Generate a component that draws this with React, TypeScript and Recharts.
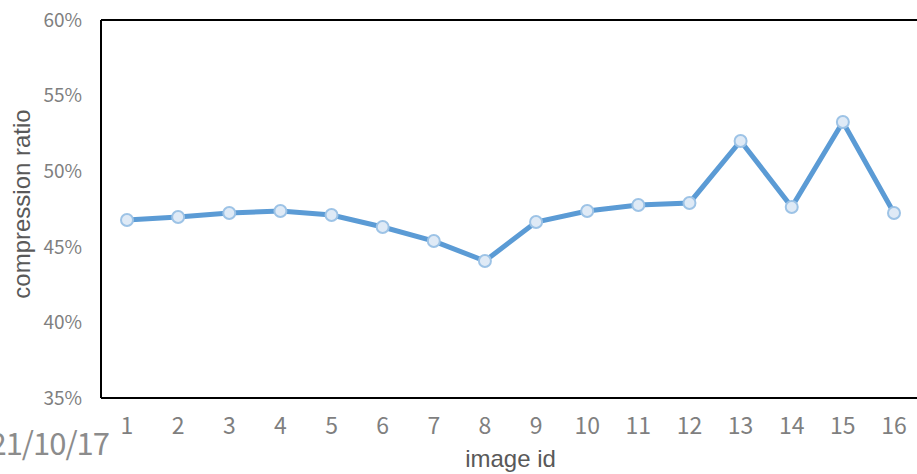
import { LineChart, Line, XAxis, YAxis, ReferenceLine } from 'recharts'

const imageIds = ['1', '2', '3', '4', '5', '6', '7', '8', '9', '10', '11', '12', '13', '14', '15', '16']
const ratios = [46.77, 46.97, 47.24, 47.37, 47.1, 46.31, 45.38, 44.06, 46.64, 47.37, 47.76, 47.9, 52.0, 47.63, 53.25, 47.24]
const yTicks = [35, 40, 45, 50, 55, 60]

const data = imageIds.map((id, i) => ({ id, ratio: ratios[i] }))

const tickFont = { fill: '#7f7f7f', fontSize: 19, fontFamily: '"Noto Sans CJK SC", "Noto Sans", sans-serif' }
const titleFont = { fill: '#595959', fontSize: 24, fontFamily: '"Liberation Sans", Arial, sans-serif' }
const axisStroke = { stroke: '#000', strokeWidth: 2 }

export default function App() {
  return (
    <div style={{ position: 'fixed', left: 0, top: 0, width: 917, height: 474, overflow: 'hidden', background: '#fff' }}>
      <LineChart width={930} height={474} data={data} margin={{ top: 20, right: 10, bottom: 0, left: 0 }}>
        <YAxis
          domain={[35, 60]}
          ticks={yTicks}
          width={101}
          tickSize={0}
          tickMargin={19}
          tick={tickFont}
          axisLine={axisStroke}
          tickFormatter={(v) => `${v}%`}
          label={{
            value: 'compression ratio',
            angle: -90,
            position: 'insideLeft',
            offset: 21,
            dy: -5,
            style: { ...titleFont, textAnchor: 'middle' },
          }}
        />
        <XAxis
          dataKey="id"
          height={76}
          tickSize={0}
          tickMargin={20}
          interval={0}
          padding={{ left: 26, right: 26 }}
          tick={{ ...tickFont, fontSize: 23 }}
          axisLine={axisStroke}
          label={{ value: 'image id', position: 'insideBottom', offset: 7, style: titleFont }}
        />
        <ReferenceLine y={60} stroke="#000" strokeWidth={2} />
        <Line
          type="linear"
          dataKey="ratio"
          stroke="#5b9bd5"
          strokeWidth={5}
          dot={{ r: 6, fill: '#dfeaf6', stroke: '#9dc3e6', strokeWidth: 2 }}
          isAnimationActive={false}
        />
      </LineChart>
      <div
        style={{
          position: 'absolute',
          right: 917 - 109,
          top: 426,
          fontSize: 31,
          lineHeight: '31px',
          letterSpacing: -1,
          color: '#8c8c8c',
          whiteSpace: 'nowrap',
          fontFamily: '"Noto Sans CJK SC", "Noto Sans", sans-serif',
        }}
      >
        2021/10/17
      </div>
    </div>
  )
}
